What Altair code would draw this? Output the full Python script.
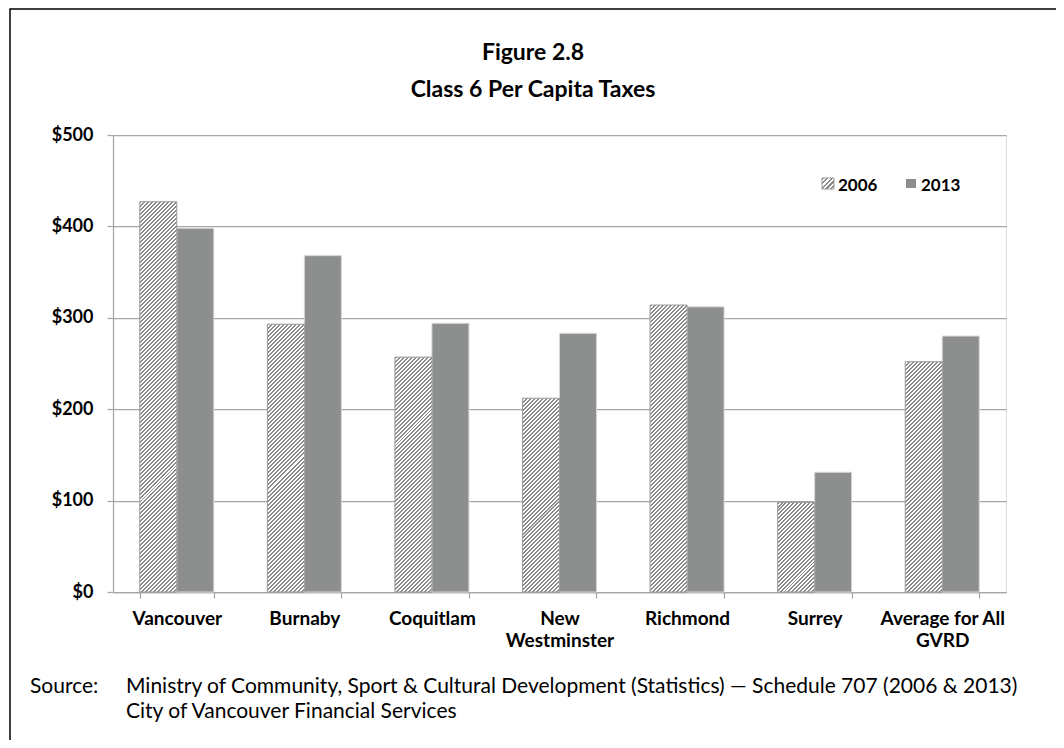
import altair as alt
import pandas as pd

# ---------------- data ----------------
categories = ["Vancouver", "Burnaby", "Coquitlam", "New Westminster",
              "Richmond", "Surrey", "Average for All GVRD"]
taxes_2006 = [427, 293, 257, 212, 314, 98, 252]
taxes_2013 = [398, 368, 294, 283, 312, 131, 280]
years = ["2006", "2013"]
y_ticks = [0, 100, 200, 300, 400, 500]
title_lines = ["Figure 2.8", "Class 6 Per Capita Taxes"]
source_label = "Source:"
source_lines = [
    "Ministry of Community, Sport & Cultural Development (Statistics) \u2014 Schedule 707 (2006 & 2013)",
    "City of Vancouver Financial Services",
]

# ---------------- layout / style ----------------
W, H = 893, 457
YMAX = 500
PAD_IN = 0.42
FONT = "Lato"
GRID = "#a6a6a6"
SOLID = "#8d8f8e"
HATCH = "#8a8a8a"

rows = []
for c, a, b in zip(categories, taxes_2006, taxes_2013):
    rows.append({"category": c, "year": years[0], "value": a})
    rows.append({"category": c, "year": years[1], "value": b})
df = pd.DataFrame(rows)

step = W / len(categories)
bar_w = step * (1 - PAD_IN) / 2


def hatch(w, h, period=4.0, duty=0.5, color=HATCH):
    """Diagonal '/' stripes as a linear gradient in objectBoundingBox units."""
    n = max(2, int(round((w + h) / period)))
    stops = []
    for i in range(n):
        a, m, b = i / n, (i + duty) / n, (i + 1) / n
        stops += [
            alt.GradientStop(offset=a, color=color),
            alt.GradientStop(offset=m, color=color),
            alt.GradientStop(offset=m, color="white"),
            alt.GradientStop(offset=b, color="white"),
        ]
    du, dv = 1.0 / h, 1.0 / w
    t = (du + dv) / (du * du + dv * dv)
    return alt.LinearGradient(gradient="linear", stops=stops, x1=0, y1=0,
                              x2=t * du, y2=t * dv)


label_expr = ("datum.label == 'New Westminster' ? ['New', 'Westminster'] : "
              "datum.label == 'Average for All GVRD' ? ['Average for All', 'GVRD'] : datum.label")

x_enc = alt.X("category:N", sort=categories,
              scale=alt.Scale(domain=categories, paddingInner=PAD_IN, paddingOuter=PAD_IN / 2),
              axis=alt.Axis(title=None, tickBand="extent", labelAngle=0, grid=False,
                            domainColor=GRID, domainWidth=1.25, tickColor=GRID, tickWidth=1.25,
                            tickSize=6, labelPadding=11, labelFont=FONT, labelFontWeight="bold",
                            labelFontSize=19, labelColor="black", labelLineHeight=22,
                            labelExpr=label_expr, labelBaseline="top"))
xo_enc = alt.XOffset("year:N", scale=alt.Scale(domain=years, paddingInner=0, paddingOuter=0))
y_enc = alt.Y("value:Q", scale=alt.Scale(domain=[0, YMAX], nice=False),
              axis=alt.Axis(title=None, values=y_ticks, labelExpr="'$' + datum.value",
                            grid=True, gridColor=GRID, gridWidth=1.25,
                            domainColor=GRID, domainWidth=1.25, tickColor=GRID, tickWidth=1.25,
                            tickSize=6, labelPadding=14, labelFont=FONT, labelFontWeight="bold",
                            labelFontSize=18, labelColor="black"))

base = alt.Chart(df)

solid = base.transform_filter(alt.datum.year == years[1]).mark_bar(
    fill=SOLID, stroke="#d6d6d6", strokeWidth=1).encode(x=x_enc, xOffset=xo_enc, y=y_enc)

hatched_layers = []
for c, v in zip(categories, taxes_2006):
    h = v / YMAX * H
    hatched_layers.append(
        base.transform_filter((alt.datum.year == years[0]) & (alt.datum.category == c)).mark_bar(
            fill=hatch(bar_w, h), stroke="#9a9a9a", strokeWidth=1
        ).encode(x=x_enc, xOffset=xo_enc, y=y_enc)
    )

one = pd.DataFrame({"k": [0]})

frame = alt.Chart(one).mark_rect(fillOpacity=0, stroke="black", strokeWidth=1.5).encode(
    x=alt.value(-103), x2=alt.value(1400), y=alt.value(-126), y2=alt.value(1000))

# legend
leg_hatch = alt.Chart(one).mark_rect(fill=hatch(12, 11, period=4.5), stroke="#9a9a9a", strokeWidth=1).encode(
    x=alt.value(709), x2=alt.value(721), y=alt.value(43), y2=alt.value(54))
leg_solid = alt.Chart(one).mark_rect(fill=SOLID).encode(
    x=alt.value(793), x2=alt.value(803), y=alt.value(44), y2=alt.value(53))


def text_layer(txt, x, y, size, weight="normal", align="left"):
    return alt.Chart(pd.DataFrame({"t": [txt]})).mark_text(
        font=FONT, fontSize=size, fontWeight=weight, align=align, baseline="alphabetic",
        color="black").encode(text="t:N", x=alt.value(x), y=alt.value(y))


texts = [
    text_layer(years[0], 725, 56, 17, "bold"),
    text_layer(years[1], 808, 56, 17, "bold"),
    text_layer(title_lines[0], 420, -75, 23, "bold", "center"),
    text_layer(title_lines[1], 420, -38, 23, "bold", "center"),
    text_layer(source_label, -83, 558, 21),
    text_layer(source_lines[0], 13, 558, 21),
    text_layer(source_lines[1], 13, 583, 21),
]

chart = alt.layer(frame, solid, *hatched_layers, leg_hatch, leg_solid, *texts).properties(
    width=W, height=H,
    autosize=alt.AutoSizeParams(type="none"),
    padding={"left": 105, "top": 127, "right": 50, "bottom": 148},
).configure_view(stroke=None).configure(background="white")

chart.save("out.html", embed_options={"renderer": "svg", "actions": False})
